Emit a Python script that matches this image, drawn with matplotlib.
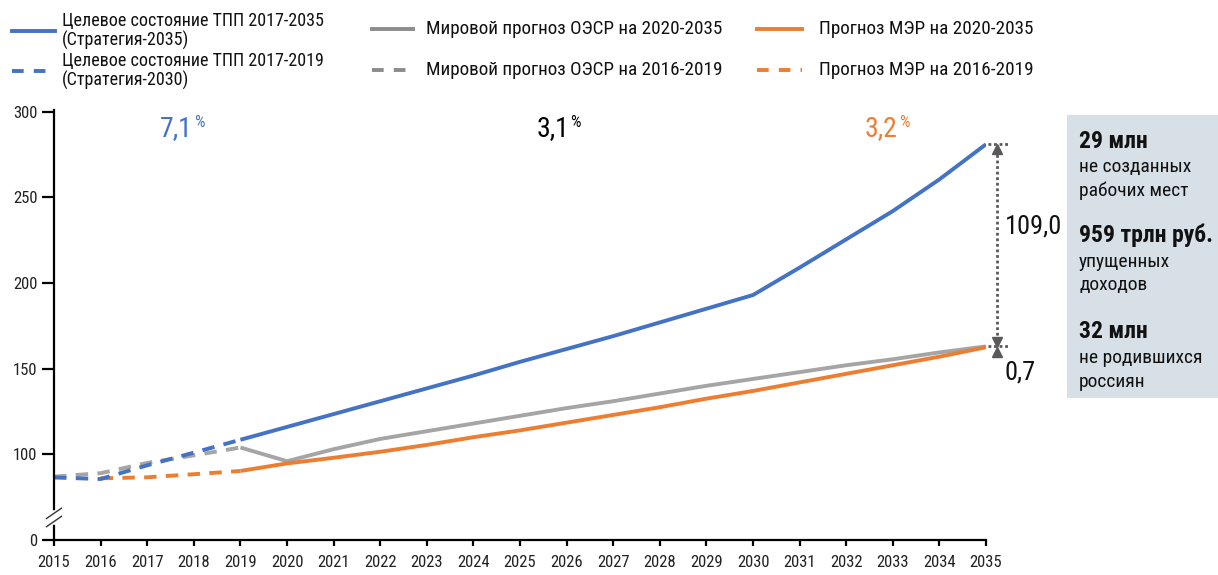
import matplotlib
matplotlib.use("Agg")
import matplotlib.pyplot as plt
from matplotlib.lines import Line2D
from matplotlib.patches import Rectangle

plt.rcParams["font.family"] = ["Roboto Condensed", "Roboto", "DejaVu Sans"]

BLUE = "#4472c4"
GREY = "#a5a5a5"
ORANGE = "#ed7d31"
DARK = "#595959"

years = list(range(2015, 2036))

# target state (Strategy-2030 to 2019, Strategy-2035 after)
tpp_2019 = [86.5, 85.6, 93.6, 101.0, 108.5]
tpp_2035 = [108.5, 116.0, 123.5, 131.0, 138.5, 146.0, 154.0, 161.5, 169.0,
            177.0, 185.0, 193.0, 209.0, 225.5, 242.0, 260.5, 281.0]
# OECD world forecast
oecd_2019 = [87.0, 89.0, 95.0, 99.4, 104.0]
oecd_2035 = [104.0, 96.0, 103.0, 109.0, 113.5, 118.0, 122.5, 127.0, 131.0,
             135.5, 140.0, 144.0, 148.0, 152.0, 155.5, 159.5, 163.0]
# Ministry of Economic Development forecast
mer_2019 = [86.0, 86.6, 88.4, 90.3]
mer_2035 = [90.3, 94.7, 98.0, 101.5, 105.5, 110.0, 114.0, 118.5, 123.0,
            127.5, 132.5, 137.0, 142.0, 147.0, 152.0, 157.0, 162.5]

yticks = [50, 100, 150, 200, 250, 300]
ytick_labels = ["0", "100", "150", "200", "250", "300"]

growth = [("7,1", 2017.62, BLUE), ("3,1", 2025.7, "black"), ("3,2", 2032.75, ORANGE)]
gap_total = "109,0"
gap_small = "0,7"

fig = plt.figure(figsize=(12.18, 5.75), dpi=100)
ax = fig.add_axes([54 / 1218, 1 - 540 / 575, 932 / 1218, 430 / 575])

lw = 2.8
dash = (0, (3.2, 2.4))
ax.plot(years[:5], oecd_2019, color=GREY, lw=lw, ls=dash)
ax.plot(years[4:], oecd_2035, color=GREY, lw=lw, solid_capstyle="butt")
ax.plot(years[1:5], mer_2019, color=ORANGE, lw=lw, ls=dash)
ax.plot(years[4:], mer_2035, color=ORANGE, lw=lw, solid_capstyle="butt")
ax.plot(years[:5], tpp_2019, color=BLUE, lw=lw, ls=dash)
ax.plot(years[4:], tpp_2035, color=BLUE, lw=lw, solid_capstyle="butt")

ax.set_xlim(2015, 2035)
ax.set_ylim(50, 301)
ax.set_xticks(years)
ax.set_xticklabels([str(y) for y in years])
ax.set_yticks(yticks)
ax.set_yticklabels(ytick_labels)
for s in ["top", "right"]:
    ax.spines[s].set_visible(False)
for s in ["left", "bottom"]:
    ax.spines[s].set_linewidth(1.6)
ax.tick_params(axis="y", length=9, width=1.6, labelsize=12, pad=3)
ax.tick_params(axis="x", length=4.5, width=1.6, labelsize=12, pad=6)
ax.tick_params(labelcolor="#222222")

# axis break marks between 0 and 100
ax.plot([0, 0], [0.043, 0.062], transform=ax.transAxes, color="white",
        lw=4, clip_on=False, zorder=5)
for yc in (0.043, 0.062):
    ax.plot([-0.008, 0.008], [yc - 0.012, yc + 0.012], transform=ax.transAxes,
            color="#333333", lw=1.0, clip_on=False, zorder=6)

# average growth rates
for val, x, c in growth:
    t = ax.text(x, 298, val, color=c, fontsize=20, ha="center", va="top")
    ax.annotate("%", xy=(1, 1), xycoords=t, xytext=(1, 0), textcoords="offset points",
                ha="left", va="top", fontsize=12, color=c)

# gap between the target and the forecasts in 2035
xa = 2035.23
end_hi = tpp_2035[-1]
end_mid = oecd_2035[-1]
end_lo = mer_2035[-1]
ax.plot([xa, xa], [end_hi - 3, end_mid + 3], color=DARK, lw=2, ls=(0, (1, 1)), clip_on=False)
for yv in (end_hi, end_mid):
    ax.plot([2035.05, 2035.5], [yv, yv], color=DARK, lw=2, ls=(0, (1, 1)), clip_on=False)
ax.plot([xa], [end_hi - 3], marker="^", ms=7, color=DARK, clip_on=False)
ax.plot([xa], [end_mid + 2.5], marker="v", ms=7, color=DARK, clip_on=False)
ax.plot([xa], [end_lo - 2.5], marker="^", ms=7, color=DARK, clip_on=False)
ax.text(2035.4, (end_hi + end_mid) / 2 + 11, gap_total, fontsize=19, ha="left",
        va="center", color="#111111", clip_on=False)
ax.text(2035.4, end_lo - 14.5, gap_small, fontsize=19, ha="left", va="center",
        color="#111111", clip_on=False)

# side box with losses
fig.patches.append(Rectangle((1067 / 1218, 1 - 398 / 575), 151 / 1218, 283 / 575,
                             transform=fig.transFigure, facecolor="#d6e0e6",
                             edgecolor="none", zorder=0))
box_lines = [
    ("29 млн", 141, True), ("не созданных", 167, False), ("рабочих мест", 191, False),
    ("959 трлн руб.", 235, True), ("упущенных", 262, False), ("доходов", 285, False),
    ("32 млн", 331, True), ("не родившихся", 358, False), ("россиян", 382, False),
]
for txt, y, bold in box_lines:
    fig.text(1079 / 1218, 1 - y / 575, txt, fontsize=17 if bold else 14,
             fontweight="bold" if bold else "normal", color="#111111",
             ha="left", va="center")

# legend
legend_items = [
    (BLUE, "-", "Целевое состояние ТПП 2017-2035\n(Стратегия-2035)", 12, 55, 62, 31),
    (BLUE, "--", "Целевое состояние ТПП 2017-2019\n(Стратегия-2030)", 12, 55, 62, 71),
    ("#8c8c8c", "-", "Мировой прогноз ОЭСР на 2020-2035", 372, 413, 426, 29),
    ("#8c8c8c", "--", "Мировой прогноз ОЭСР на 2016-2019", 372, 413, 426, 70),
    (ORANGE, "-", "Прогноз МЭР на 2020-2035", 757, 802, 819, 29),
    (ORANGE, "--", "Прогноз МЭР на 2016-2019", 757, 802, 819, 70),
]
for c, ls, label, x0, x1, xt, y in legend_items:
    style = (0, (3.0, 2.6)) if ls == "--" else "-"
    fig.lines.append(Line2D([x0 / 1218, x1 / 1218], [1 - y / 575, 1 - y / 575],
                            transform=fig.transFigure, color=c, lw=2.8, ls=style))
    fig.text(xt / 1218, 1 - y / 575, label, fontsize=13 if xt < 100 else 13.8,
             ha="left", va="center", color="#111111", linespacing=1.0)

fig.savefig("out.png", dpi=100)
